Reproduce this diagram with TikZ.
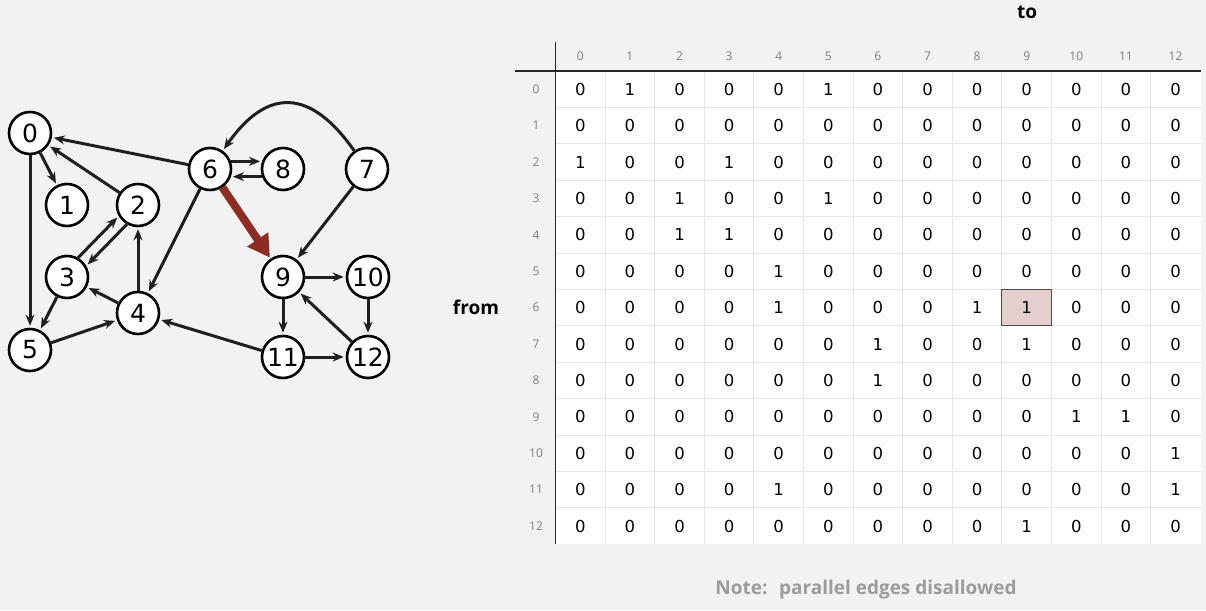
\documentclass[tikz,border=0pt]{standalone}
\usepackage{fontspec}
\setmainfont{DejaVu Sans}
\newfontfamily\labelfont{Open Sans}
\usepackage{xcolor}
\usepackage{tikz}
\definecolor{bggray}{RGB}{242,242,242}
\definecolor{gridgray}{RGB}{230,230,230}
\definecolor{edgered}{RGB}{140,44,34}
\definecolor{hlpink}{RGB}{228,206,206}
\definecolor{notegray}{RGB}{155,155,155}
\definecolor{hdrgray}{RGB}{125,125,125}
\usetikzlibrary{arrows.meta, positioning}

\begin{document}
\begin{tikzpicture}[
    x=1pt, y=-1pt,
    vertex/.style={circle, draw=black, line width=2.6pt, fill=white,
                   minimum size=42pt, inner sep=0pt,
                   font=\fontsize{25}{25}\selectfont},
    diedge/.style={-{Stealth[length=11pt, width=9pt]}, line width=3pt,
                   draw=black!88, shorten >=2pt},
    redge/.style={-{Triangle[length=22pt, width=24pt]}, line width=8pt,
                  draw=edgered, shorten >=1pt},
    cell/.style={font=\fontsize{16.5}{16.5}\selectfont},
    hdr/.style={font=\labelfont\fontsize{12}{12}\selectfont, text=hdrgray},
    axislabel/.style={font=\labelfont\bfseries\fontsize{19}{19}\selectfont}
]
    % Background
    \fill[bggray] (0,0) rectangle (1206,610);

    % Graph vertices
    \node[vertex] (v0) at (30,133) {0};
    \node[vertex] (v1) at (67,205) {1};
    \node[vertex] (v2) at (138,205) {2};
    \node[vertex] (v3) at (67,277) {3};
    \node[vertex] (v4) at (138,313) {4};
    \node[vertex] (v5) at (30,350) {5};
    \node[vertex] (v6) at (210,169) {6};
    \node[vertex] (v8) at (283,169) {8};
    \node[vertex] (v7) at (367,169) {7};
    \node[vertex] (v9) at (283,277) {9};
    \node[vertex] (v10) at (368,277) {10};
    \node[vertex] (v11) at (283,357) {11};
    \node[vertex] (v12) at (368,357) {12};

    % Graph edges
    \draw[diedge] (v0) -- (v1);
    \draw[diedge] (v0) -- (v5);
    \draw[diedge] (v2) -- (v0);
    \draw[diedge] (v2.240) -- (v3.30);
    \draw[diedge] (v3.60) -- (v2.210);
    \draw[diedge] (v3) -- (v5);
    \draw[diedge] (v4) -- (v2);
    \draw[diedge] (v4) -- (v3);
    \draw[diedge] (v5) -- (v4);
    \draw[diedge] (v6) -- (v0);
    \draw[diedge] (v6) -- (v4);
    \draw[diedge] (v6.20) -- (v8.160);
    \draw[diedge] (v8.200) -- (v6.-20);
    \draw[redge] (v6) -- (v9);
    \draw[diedge] (v7) to[out=125, in=55, looseness=1.5] (v6);
    \draw[diedge] (v7) -- (v9);
    \draw[diedge] (v9) -- (v10);
    \draw[diedge] (v9) -- (v11);
    \draw[diedge] (v10) -- (v12);
    \draw[diedge] (v11) -- (v4);
    \draw[diedge] (v11) -- (v12);
    \draw[diedge] (v12) -- (v9);

    % Adjacency matrix
    \fill[white] (555.5,71) rectangle (1200.5,544);
    \foreach \k in {1,...,12}
        \draw[gridgray, line width=1pt] ({555.5+49.6*\k},71) -- ({555.5+49.6*\k},544);
    \foreach \k in {1,...,12}
        \draw[gridgray, line width=1pt] (555.5,{71+36.4*\k}) -- (1200.5,{71+36.4*\k});
    \draw[fill=hlpink, draw=black!70, line width=1pt] (1001.9,289.4) rectangle (1051.5,325.8);
    \draw[black!85, line width=1.2pt] (515,71) -- (1200.5,71);
    \draw[black!85, line width=1.2pt] (555.5,42) -- (555.5,544);

    \foreach \c in {0,...,12}
        \node[hdr] (c\c) at ({580.3+49.6*\c},56) {\c};
    \foreach \row [count=\r from 0] in {
        {0,1,0,0,0,1,0,0,0,0,0,0,0},
        {0,0,0,0,0,0,0,0,0,0,0,0,0},
        {1,0,0,1,0,0,0,0,0,0,0,0,0},
        {0,0,1,0,0,1,0,0,0,0,0,0,0},
        {0,0,1,1,0,0,0,0,0,0,0,0,0},
        {0,0,0,0,1,0,0,0,0,0,0,0,0},
        {0,0,0,0,1,0,0,0,1,1,0,0,0},
        {0,0,0,0,0,0,1,0,0,1,0,0,0},
        {0,0,0,0,0,0,1,0,0,0,0,0,0},
        {0,0,0,0,0,0,0,0,0,0,1,1,0},
        {0,0,0,0,0,0,0,0,0,0,0,0,1},
        {0,0,0,0,1,0,0,0,0,0,0,0,1},
        {0,0,0,0,0,0,0,0,0,1,0,0,0}} {
        \node[hdr] (r\r) at (536,{89.2+36.4*\r}) {\r};
        \foreach \val [count=\c from 0] in \row
            \node[cell] (m\r-\c) at ({580.3+49.6*\c},{89.2+36.4*\r}) {\val};
    }

    % Labels
    \node[axislabel] (to) at (1027,12) {to};
    \node[axislabel] (from) at (476,307) {from};
    \node[axislabel, text=notegray] (note) at (866,590) {Note:~ parallel edges disallowed};
\end{tikzpicture}
\end{document}
